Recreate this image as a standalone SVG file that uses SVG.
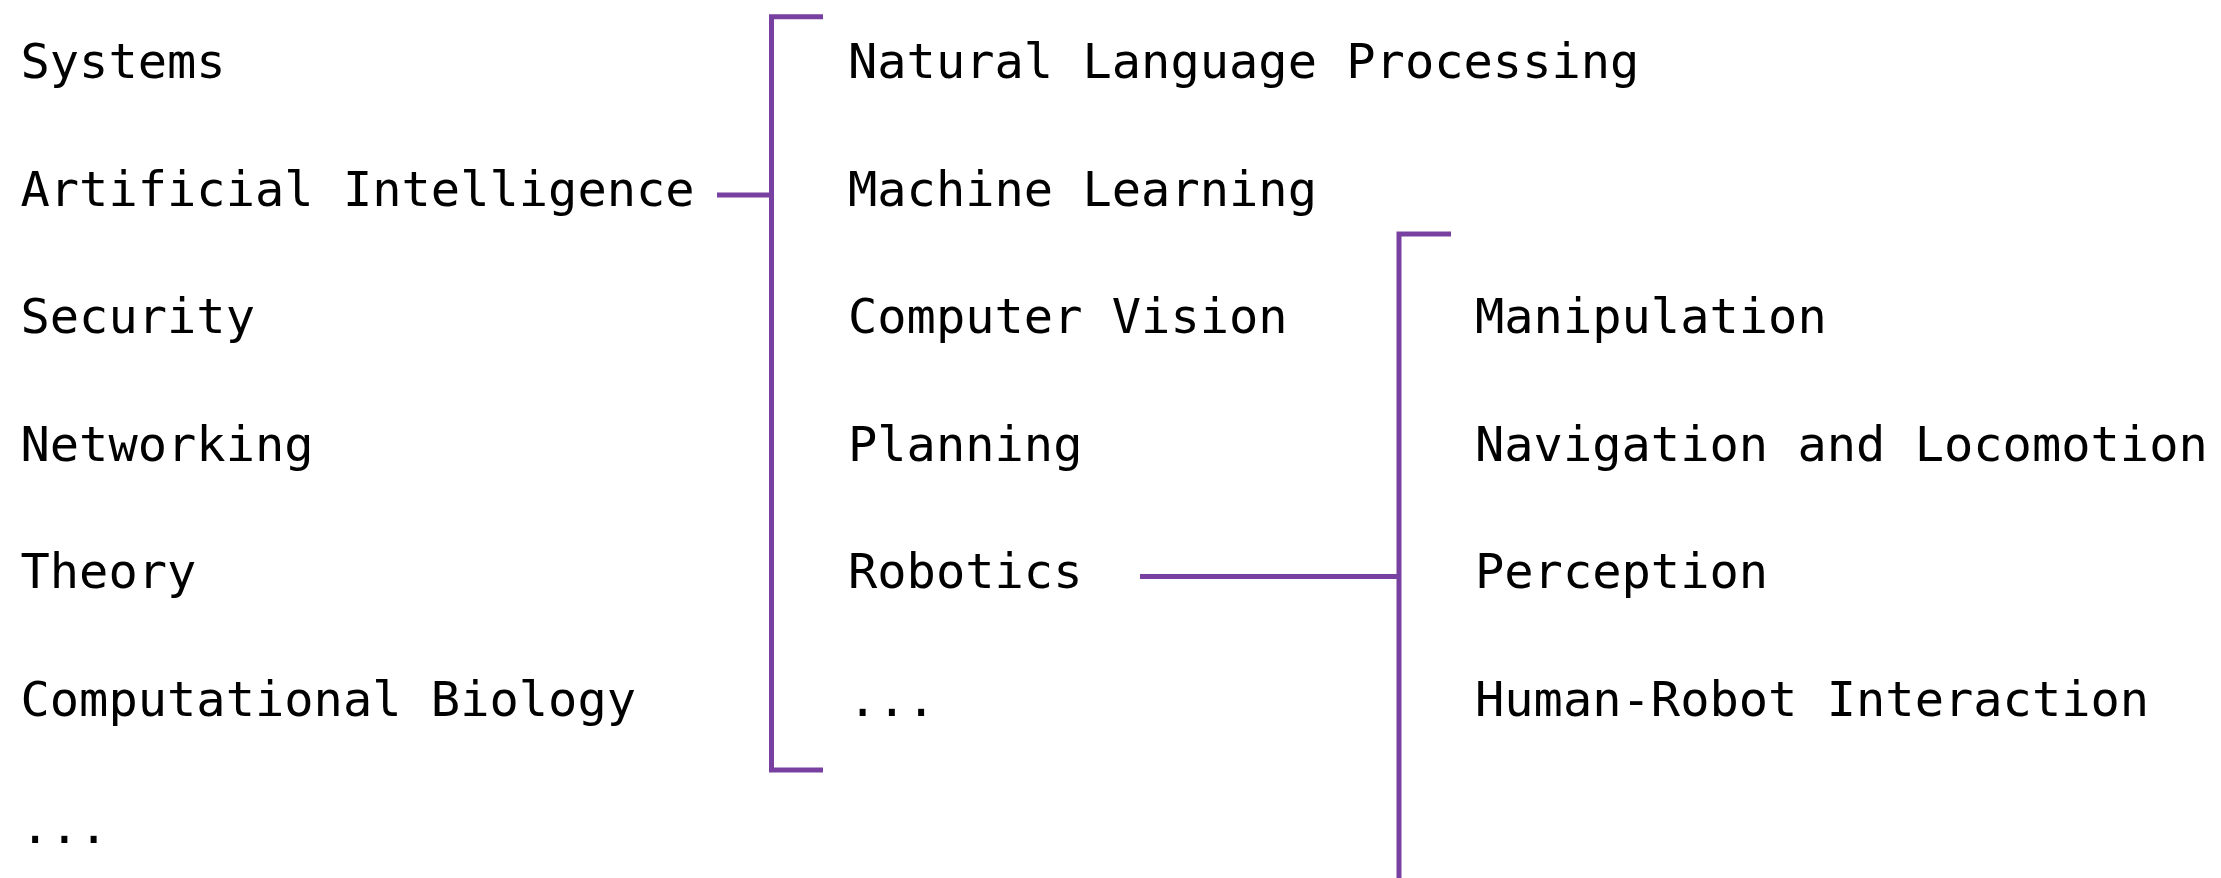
<svg xmlns="http://www.w3.org/2000/svg" width="2221" height="878" viewBox="0 0 2221 878">
  <style>
    .label { font-family: "DejaVu Sans Mono", "Liberation Mono", monospace; font-size: 48.7px; fill: #000000; }
    .link { fill: none; stroke: #7840A0; stroke-width: 5; stroke-linecap: butt; stroke-linejoin: miter; }
  </style>
  <rect width="2221" height="878" fill="#ffffff"/>

  <!-- top-level fields -->
  <g id="systems"><text class="label" x="20.5" y="78">Systems</text></g>
  <g id="artificial-intelligence"><text class="label" x="20.5" y="205.5">Artificial Intelligence</text></g>
  <g id="security"><text class="label" x="20.5" y="333">Security</text></g>
  <g id="networking"><text class="label" x="20.5" y="460.5">Networking</text></g>
  <g id="theory"><text class="label" x="20.5" y="588">Theory</text></g>
  <g id="computational-biology"><text class="label" x="20.5" y="715.5">Computational Biology</text></g>
  <g id="more-fields"><text class="label" x="20.5" y="843">...</text></g>

  <!-- AI subfields -->
  <g id="nlp"><text class="label" x="848" y="78">Natural Language Processing</text></g>
  <g id="machine-learning"><text class="label" x="848" y="205.5">Machine Learning</text></g>
  <g id="computer-vision"><text class="label" x="848" y="333">Computer Vision</text></g>
  <g id="planning"><text class="label" x="848" y="460.5">Planning</text></g>
  <g id="robotics"><text class="label" x="848" y="588">Robotics</text></g>
  <g id="more-ai"><text class="label" x="848" y="715.5">...</text></g>

  <!-- Robotics subfields -->
  <g id="manipulation"><text class="label" x="1475" y="333">Manipulation</text></g>
  <g id="navigation"><text class="label" x="1475" y="460.5">Navigation and Locomotion</text></g>
  <g id="perception"><text class="label" x="1475" y="588">Perception</text></g>
  <g id="hri"><text class="label" x="1475" y="715.5">Human-Robot Interaction</text></g>

  <!-- brackets and connectors -->
  <g id="connectors">
    <path class="link" d="M823 16.7 H771.5 V770 H823"/>
    <path class="link" d="M717 195 H771.5"/>
    <path class="link" d="M1451 234 H1399 V878"/>
    <path class="link" d="M1140 576.5 H1399"/>
  </g>
</svg>
